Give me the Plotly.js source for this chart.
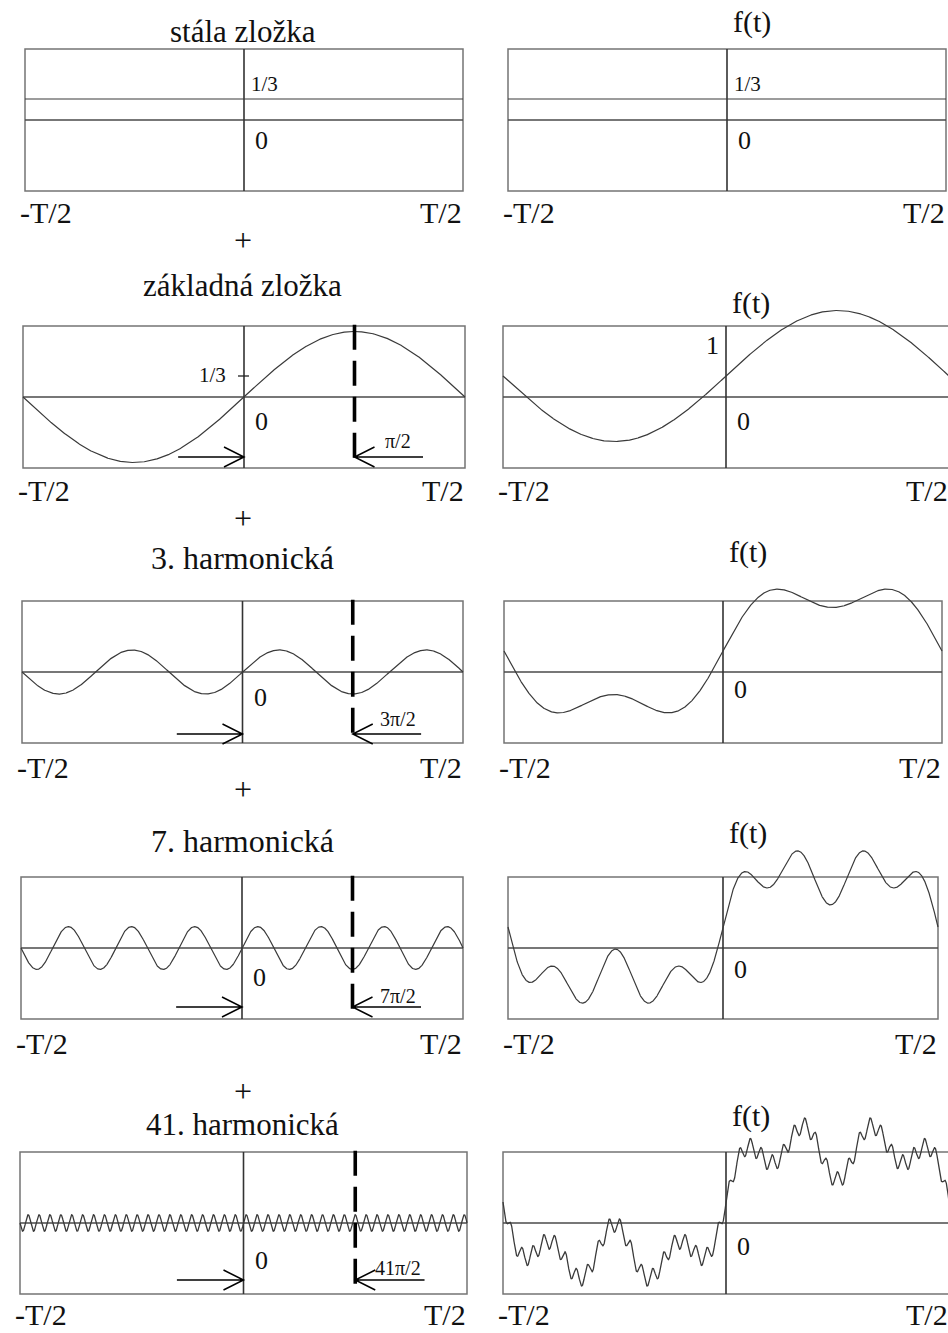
<!DOCTYPE html>
<html>
<head>
<meta charset="utf-8">
<script src="https://cdn.plot.ly/plotly-3.0.1.min.js"></script>
<style>
  html, body { margin: 0; padding: 0; background: #fff; }
  #chart { width: 948px; height: 1333px; }
</style>
</head>
<body>
<div id="chart"></div>
<script>
// Fourier synthesis: DC term plus harmonics 1, 3, 7 and 41, each shown alone (left)
// and as the running sum f(t) (right), over one period from -T/2 to T/2.
const componentTitles = ['stála zložka', 'základná zložka', '3. harmonická', '7. harmonická', '41. harmonická'];
const harmonicOrders = [0, 1, 3, 7, 41];
const amplitudes = [1 / 3, 1.04, 0.35, 0.34, 0.13];
const phaseLabels = ['', 'π/2', '3π/2', '7π/2', '41π/2'];
const edgeLabels = ['-T/2', 'T/2'];
const sumLabel = 'f(t)';
const dcLabel = '1/3';
const zeroLabel = '0';
const unitLabel = '1';

// ---- page geometry (pixels) ----
const W = 948, H = 1333;
const U = 63;          // pixels per unit of amplitude
const HALF = 71 / U;   // half height of a panel frame, in units
const FONT = 'Liberation Serif, "Times New Roman", serif';
const INK = '#3a3a3a';
const FRAME = '#747474';

// per row: zero line, left/right frame edges, arrow height, text rows
const rows = [
  { zero: 120,  L: [25, 463], R: [508, 946], arrowY: null, title: 31.5,   tsize: 31, plus: 240,  edge: 213,  ft: 22,   zL: 141,  zR: 141 },
  { zero: 397,  L: [23, 465], R: [503, 949], arrowY: 457,  title: 285.5,  tsize: 31, plus: 518,  edge: 490,  ft: 303,  zL: 421,  zR: 421, phase: 441 },
  { zero: 672,  L: [22, 463], R: [504, 942], arrowY: 734,  title: 557.5,  tsize: 32, plus: 789,  edge: 767,  ft: 552,  zL: 697,  zR: 689, phase: 719 },
  { zero: 948,  L: [21, 463], R: [508, 938], arrowY: 1007, title: 841,    tsize: 32, plus: 1091, edge: 1043, ft: 833,  zL: 977,  zR: 969, phase: 996 },
  { zero: 1223, L: [20, 467], R: [503, 949], arrowY: 1280, title: 1124,   tsize: 31, plus: null, edge: 1314, ft: 1116, zL: 1260, zR: 1246, phase: 1268 }
];

const px = x => x / W;
const py = y => 1 - y / H;

// ---- curves ----
const N = 2400;
const t = Array.from({ length: N + 1 }, (_, i) => -0.5 + i / N);
const parts = harmonicOrders.map((n, k) =>
  t.map(v => n === 0 ? amplitudes[k] : amplitudes[k] * Math.sin(2 * Math.PI * n * v)));
const sums = [];
let acc = t.map(() => 0);
parts.forEach(p => { acc = acc.map((v, i) => v + p[i]); sums.push(acc); });

const layout = {
  width: W, height: H,
  margin: { l: 0, r: 0, t: 0, b: 0 },
  paper_bgcolor: '#ffffff', plot_bgcolor: 'rgba(0,0,0,0)',
  showlegend: false,
  shapes: [], annotations: []
};
const data = [];

function text(str, x, y, size, xanchor, color) {
  layout.annotations.push({
    text: str, x: px(x), y: py(y), xref: 'paper', yref: 'paper',
    xanchor: xanchor || 'center', yanchor: 'middle', showarrow: false,
    font: { family: FONT, size: size, color: color || '#111' }
  });
}

function panel(r, c, yvals) {
  const idx = r * 2 + c + 1;
  const sfx = idx === 1 ? '' : String(idx);
  const g = rows[r];
  const [fl, fr] = c === 0 ? g.L : g.R;
  const cx = (fl + fr) / 2, w = fr - fl;
  const dl = Math.max(0, fl - 14), dr = Math.min(W, fr + 14);
  const top = Math.max(0, g.zero - 128), bot = Math.min(H, g.zero + 95);
  layout['xaxis' + sfx] = {
    domain: [px(dl), px(dr)], range: [(dl - cx) / w, (dr - cx) / w],
    visible: false, fixedrange: true, anchor: 'y' + sfx
  };
  layout['yaxis' + sfx] = {
    domain: [py(bot), py(top)], range: [-(bot - g.zero) / U, (g.zero - top) / U],
    visible: false, fixedrange: true, anchor: 'x' + sfx
  };
  const xr = 'x' + sfx, yr = 'y' + sfx;
  const S = layout.shapes;
  // frame, zero line and time origin
  S.push({ type: 'rect', xref: xr, yref: yr, x0: -0.5, x1: 0.5, y0: -HALF, y1: HALF,
           line: { color: FRAME, width: 1.5 }, layer: 'below' });
  S.push({ type: 'line', xref: xr, yref: yr, x0: -0.5, x1: 0.5, y0: 0, y1: 0,
           line: { color: '#4a4a4a', width: 1.5 }, layer: 'below' });
  S.push({ type: 'line', xref: xr, yref: yr, x0: 0, x1: 0, y0: -HALF, y1: HALF,
           line: { color: '#333', width: 1.6 }, layer: 'below' });

  data.push({
    x: t, y: yvals, xaxis: xr, yaxis: yr, type: 'scatter', mode: 'lines',
    line: { color: INK, width: r === 4 ? 1.3 : 1.2 }, hoverinfo: 'skip'
  });

  // edge labels
  text(edgeLabels[0], fl - 7, g.edge, 30, 'left');
  text(edgeLabels[1], fr + 1, g.edge, 30, 'right');
  // zero label
  text(zeroLabel, cx + 9, c === 0 ? g.zL : g.zR, 26, 'left');

  if (r === 0) {
    text(dcLabel, cx + 5, 84, 21, 'left');
  }
  if (r === 1 && c === 0) {
    text(dcLabel, 228, 375, 21, 'right');
    S.push({ type: 'line', xref: xr, yref: yr, x0: -6 / w, x1: 5 / w,
             y0: amplitudes[0], y1: amplitudes[0], line: { color: '#222', width: 1.3 } });
  }
  if (r === 1 && c === 1) {
    text(unitLabel, 721, 345, 26, 'right');
  }

  if (c === 0 && r > 0) {
    // quarter-period marker
    S.push({ type: 'line', xref: xr, yref: yr, x0: 0.25, x1: 0.25, y0: HALF + 0.02, y1: -1.06,
             line: { color: '#000', width: 3.6, dash: '25px,11px' } });
    const ay = -(g.arrowY - g.zero) / U;
    const hx = 20 / w, hy = 10 / U;
    const tailL = -0.149, tailR = 0.405;
    S.push({ type: 'path', xref: xr, yref: yr,
             path: `M${tailL},${ay} L0,${ay} M${-hx},${ay + hy} L0,${ay} L${-hx},${ay - hy}`,
             line: { color: '#000', width: 1.5 } });
    S.push({ type: 'path', xref: xr, yref: yr,
             path: `M${tailR},${ay} L0.25,${ay} M${0.25 + hx},${ay + hy} L0.25,${ay} L${0.25 + hx},${ay - hy}`,
             line: { color: '#000', width: 1.5 } });
    text(phaseLabels[r], 398, g.phase, 20, 'center');
  }
  if (c === 1) {
    text(sumLabel, cx + 4, g.ft, 30, 'left');
  }
}

rows.forEach((g, r) => {
  panel(r, 0, parts[r]);
  panel(r, 1, sums[r]);
  text(componentTitles[r], 243, g.title, g.tsize, 'center');
  if (g.plus !== null) text('+', 243, g.plus, 32, 'center');
});

Plotly.newPlot('chart', data, layout, { staticPlot: true, displayModeBar: false });
</script>
</body>
</html>
